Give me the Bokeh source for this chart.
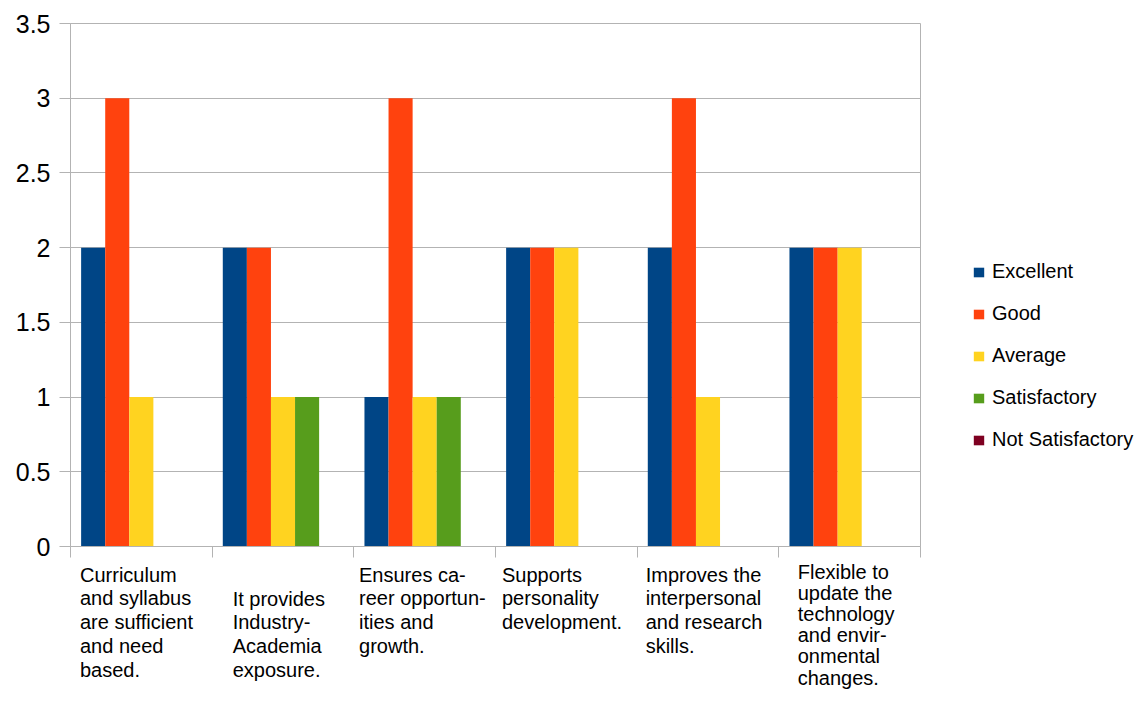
from bokeh.plotting import figure
from bokeh.layouts import column
from bokeh.models import (Range1d, FixedTicker, Legend, LegendItem,
                          ColumnDataSource, CustomJSTickFormatter, CDSView, IndexFilter)
from bokeh.core.properties import value
from bokeh.transform import dodge
from bokeh.embed import file_html
from bokeh.resources import INLINE

categories = [
    "Curriculum\nand syllabus\nare sufficient\nand need\nbased.",
    "It provides\nIndustry-\nAcademia\nexposure.",
    "Ensures ca-\nreer opportun-\nities and\ngrowth.",
    "Supports\npersonality\ndevelopment.",
    "Improves the\ninterpersonal\nand research\nskills.",
    "Flexible to\nupdate the\ntechnology\nand envir-\nonmental\nchanges.",
]
series_names = ["Excellent", "Good", "Average", "Satisfactory", "Not Satisfactory"]
excellent = [2, 2, 1, 2, 2, 2]
good = [3, 2, 3, 2, 3, 2]
average = [1, 1, 1, 2, 1, 2]
satisfactory = [0, 1, 1, 0, 0, 0]
not_satisfactory = [0, 0, 0, 0, 0, 0]
y_ticks = [0, 0.5, 1, 1.5, 2, 2.5, 3, 3.5]

colors = ["#004586", "#ff420e", "#ffd320", "#579d1c", "#7e0021"]

FONT = "Liberation Sans"
GRID = "#b3b3b3"

n = len(categories)
xr = Range1d(0, n)
src = ColumnDataSource(dict(
    xc=[i + 0.5 for i in range(n)],
    excellent=excellent, good=good, average=average,
    satisfactory=satisfactory, not_satisfactory=not_satisfactory,
))
cols = ["excellent", "good", "average", "satisfactory", "not_satisfactory"]

p = figure(frame_width=850, frame_height=523, output_backend="svg",
           toolbar_location=None,
           x_range=xr, y_range=Range1d(0, 3.5),
           min_border_left=70, min_border_right=212, min_border_top=23,
           min_border_bottom=14)
p.outline_line_color = GRID
p.outline_line_width = 1
p.background_fill_color = "white"
p.border_fill_color = "white"

bw = 0.17
renderers = []
for k, (c, col) in enumerate(zip(cols, colors)):
    r = p.vbar(x=dodge("xc", (k - 2) * bw), top=c, width=bw, bottom=0,
               source=src, fill_color=col, line_color=None)
    renderers.append(r)

p.xgrid.visible = False
p.ygrid.grid_line_color = GRID
p.ygrid.ticker = FixedTicker(ticks=y_ticks)

xa = p.xaxis[0]
xa.ticker = FixedTicker(ticks=list(range(n + 1)))
xa.major_label_text_font_size = "0px"
xa.major_label_text_alpha = 0
xa.major_label_standoff = 0
xa.axis_line_color = GRID
xa.major_tick_line_color = GRID
xa.major_tick_out = 11
xa.major_tick_in = 0
xa.minor_tick_line_color = None

ya = p.yaxis[0]
ya.ticker = FixedTicker(ticks=y_ticks)
ya.formatter = CustomJSTickFormatter(code="return String(tick);")
ya.major_label_text_font = FONT
ya.major_label_text_font_size = "25px"
ya.major_label_text_color = "black"
ya.major_label_standoff = 9
ya.axis_line_color = GRID
ya.major_tick_line_color = GRID
ya.major_tick_out = 11
ya.major_tick_in = 0
ya.minor_tick_line_color = None

legend = Legend(items=[LegendItem(label=nm, renderers=[r])
                       for nm, r in zip(series_names, renderers)],
                location=(52, 95), orientation="vertical",
                label_text_font=FONT, label_text_font_size="20px",
                label_text_color="black",
                glyph_width=13, glyph_height=12, label_standoff=7,
                spacing=19, padding=0, margin=0,
                border_line_alpha=0, background_fill_alpha=0)
p.add_layout(legend, "right")

# category labels below the axis: a second strip sharing the x range
lab_h = 130
p2 = figure(frame_width=850, frame_height=lab_h, output_backend="svg",
            toolbar_location=None, x_range=xr, y_range=Range1d(-lab_h, 0),
            x_axis_type=None, y_axis_type=None,
            min_border_left=70, min_border_right=212, min_border_top=0,
            min_border_bottom=0)
p2.outline_line_color = None
p2.background_fill_color = "white"
p2.border_fill_color = "white"

lab_src = ColumnDataSource(dict(
    x=list(range(n)),
    y=[-3, -27, -3, -3, -3, -0.5],
    xo=[9.5, 20.5, 5.2, 6.5, 8.5, 18.9],
    text=categories,
))
common = dict(x="x", y="y", text="text", x_offset="xo", source=lab_src,
              text_font=value(FONT), text_font_size="20px", text_color="black",
              text_align="left", text_baseline="top")
p2.text(view=CDSView(filter=IndexFilter([0, 1, 2, 3, 4])),
        text_line_height=1.09, **common)
p2.text(view=CDSView(filter=IndexFilter([5])),
        text_line_height=0.96, **common)

layout = column(p, p2, spacing=0)
open("out.html", "w").write(file_html(layout, INLINE))
